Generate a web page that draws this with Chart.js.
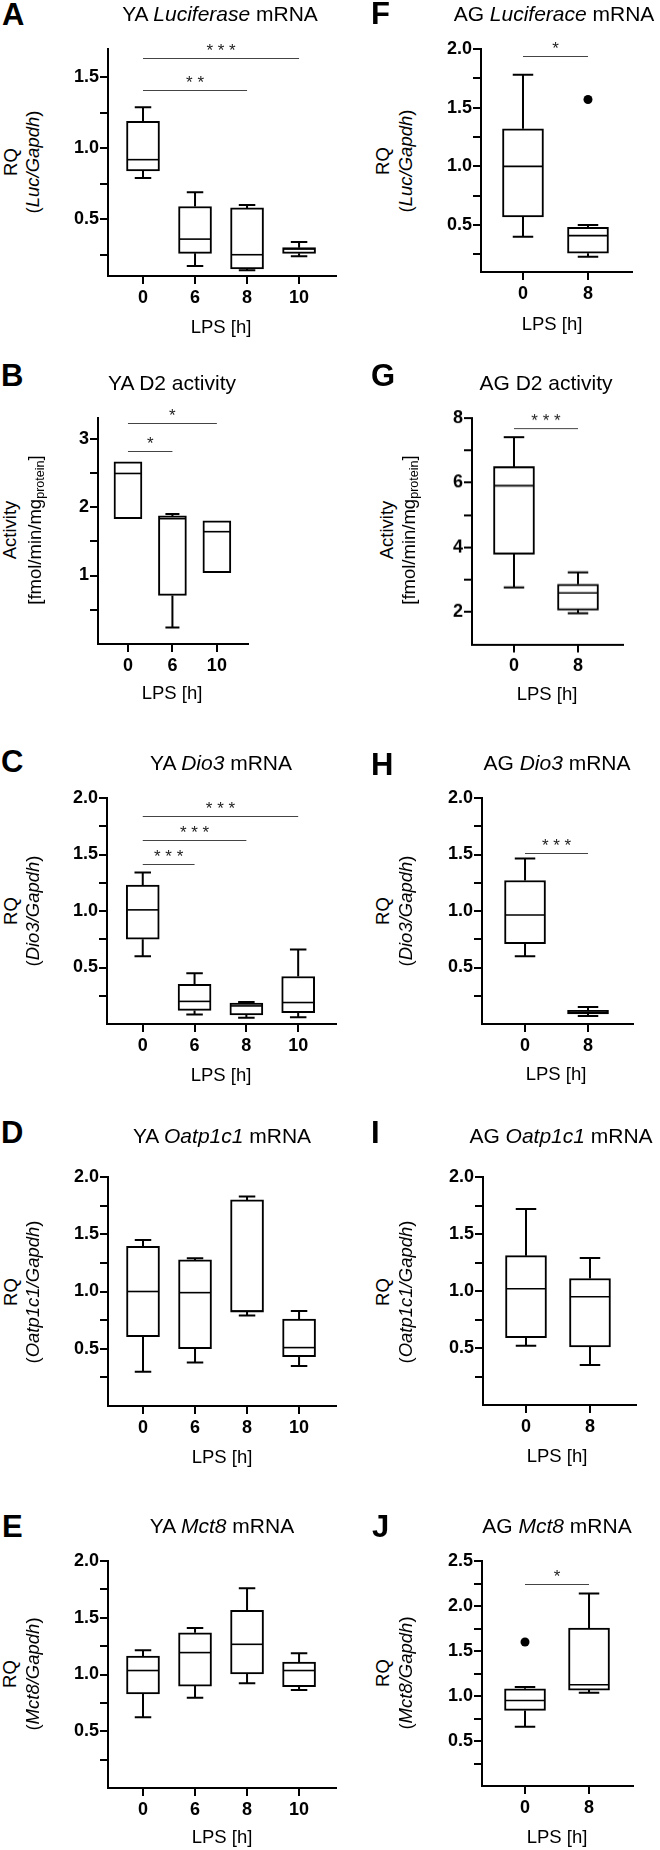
<!DOCTYPE html>
<html>
<head>
<meta charset="utf-8">
<script src="https://cdn.jsdelivr.net/npm/chart.js@4.4.1/dist/chart.umd.min.js"></script>
<style>
  body { margin: 0; background: #fff; }
  #fig { position: relative; width: 660px; height: 1850px; overflow: hidden;
         font-family: 'Liberation Sans', Arial, Helvetica, sans-serif; color: #000; }
  .t { position: absolute; white-space: nowrap; line-height: 1; }
  .t sub { font-size: 0.68em; vertical-align: -0.25em; line-height: 0; }
  .panel { position: absolute; }
</style>
</head>
<body>
<div id="fig"></div>
<script>
/* ---------- data ---------- */

const RQ_yTicks = ['0.5', '1.0', '1.5', '2.0'];
const RQ_yMinor = [0.25, 0.75, 1.25, 1.75];

// A  YA Luciferase mRNA
const A_lps = ['0', '6', '8', '10'];
const A_min = [0.79, 0.17, 0.14, 0.24];
const A_q1  = [0.84, 0.26, 0.15, 0.26];
const A_med = [0.92, 0.36, 0.25, 0.29];
const A_q3  = [1.19, 0.59, 0.58, 0.30];
const A_max = [1.29, 0.69, 0.60, 0.34];
const A_sig = [[0, 3, 1.64, '* * *'], [0, 2, 1.41, '* *']];
const A_yTicks = ['0.5', '1.0', '1.5'];
const A_yMinor = [0.25, 0.75, 1.25];

// F  AG Luciferace mRNA
const F_lps = ['0', '8'];
const F_min = [0.40, 0.23];
const F_q1  = [0.57, 0.26];
const F_med = [1.00, 0.41];
const F_q3  = [1.32, 0.48];
const F_max = [1.78, 0.50];
const F_out = [[1, 1.57]];
const F_sig = [[0, 1, 1.94, '*']];

// B  YA D2 activity
const B_lps = ['0', '6', '10'];
const B_min = [1.83, 0.24, 1.04];
const B_q1  = [1.83, 0.71, 1.04];
const B_med = [2.49, 1.83, 1.64];
const B_q3  = [2.66, 1.87, 1.80];
const B_max = [2.66, 1.90, 1.80];
const B_sig = [[0, 2, 3.23, '*'], [0, 1, 2.82, '*']];
const B_yTicks = ['1', '2', '3'];
const B_yMinor = [0.5, 1.5, 2.5];

// G  AG D2 activity
const G_lps = ['0', '8'];
const G_min = [2.76, 1.96];
const G_q1  = [3.79, 2.06];
const G_med = [5.91, 2.59];
const G_q3  = [6.50, 2.86];
const G_max = [7.41, 3.23];
const G_sig = [[0, 1, 7.69, '* * *']];
const G_yTicks = ['2', '4', '6', '8'];
const G_yMinor = [3, 5, 7];

// C  YA Dio3 mRNA
const C_lps = ['0', '6', '8', '10'];
const C_min = [0.60, 0.085, 0.055, 0.06];
const C_q1  = [0.75, 0.12, 0.08, 0.10];
const C_med = [1.01, 0.20, 0.16, 0.19];
const C_q3  = [1.23, 0.35, 0.185, 0.42];
const C_max = [1.34, 0.45, 0.195, 0.66];
const C_sig = [[0, 3, 1.84, '* * *'], [0, 2, 1.63, '* * *'], [0, 1, 1.42, '* * *']];

// H  AG Dio3 mRNA
const H_lps = ['0', '8'];
const H_min = [0.60, 0.07];
const H_q1  = [0.71, 0.09];
const H_med = [0.965, 0.105];
const H_q3  = [1.27, 0.12];
const H_max = [1.465, 0.15];
const H_sig = [[0, 1, 1.515, '* * *']];

// D  YA Oatp1c1 mRNA
const D_lps = ['0', '6', '8', '10'];
const D_min = [0.30, 0.38, 0.79, 0.35];
const D_q1  = [0.605, 0.50, 0.82, 0.43];
const D_med = [1.00, 0.99, 0.83, 0.51];
const D_q3  = [1.395, 1.276, 1.80, 0.76];
const D_max = [1.45, 1.29, 1.83, 0.83];

// I  AG Oatp1c1 mRNA
const I_lps = ['0', '8'];
const I_min = [0.52, 0.35];
const I_q1  = [0.59, 0.51];
const I_med = [1.02, 0.95];
const I_q3  = [1.31, 1.11];
const I_max = [1.72, 1.29];

// E  YA Mct8 mRNA
const E_lps = ['0', '6', '8', '10'];
const E_min = [0.624, 0.796, 0.924, 0.863];
const E_q1  = [0.828, 0.898, 1.006, 0.892];
const E_med = [1.035, 1.193, 1.266, 1.035];
const E_q3  = [1.163, 1.368, 1.566, 1.11];
const E_max = [1.213, 1.41, 1.76, 1.187];

// J  AG Mct8 mRNA
const J_lps = ['0', '8'];
const J_min = [0.657, 1.037];
const J_q1  = [0.84, 1.066];
const J_med = [0.95, 1.125];
const J_q3  = [1.08, 1.756];
const J_max = [1.10, 2.14];
const J_out = [[0, 1.60]];
const J_sig = [[0, 1, 2.243, '*']];
const J_yTicks = ['0.5', '1.0', '1.5', '2.0', '2.5'];
const J_yMinor = [0.25, 0.75, 1.25, 1.75, 2.25];

/* ---------- texts ---------- */

const LUC = '(<i>Luc/Gapdh</i>)';
const DIO = '(<i>Dio3/Gapdh</i>)';
const OAT = '(<i>Oatp1c1/Gapdh</i>)';
const MCT = '(<i>Mct8/Gapdh</i>)';
const ACT = '[fmol/min/mg<sub>protein</sub>]';

/* ---------- panels (layout in px) ---------- */

const panels = [
  { letter: 'A', title: 'YA <i>Luciferase</i> mRNA', y1: 'RQ', y2: LUC,
    lps: A_lps, min: A_min, q1: A_q1, med: A_med, q3: A_q3, max: A_max, out: [], sig: A_sig,
    yTicks: A_yTicks, yMinor: A_yMinor, yRange: [0.1, 1.7],
    box: { l: 108, t: 49, b: 276, r: 336, xMin: -0.673, xMax: 3.71, w: 33 },
    txt: { lx: 2, lb: 25, tx: 220, tb: 21, ya: 11, yb: 33, yc: 162, xx: 221, xb: 334 } },
  { letter: 'F', title: 'AG <i>Luciferace</i> mRNA', y1: 'RQ', y2: LUC,
    lps: F_lps, min: F_min, q1: F_q1, med: F_med, q3: F_q3, max: F_max, out: F_out, sig: F_sig,
    yTicks: RQ_yTicks, yMinor: RQ_yMinor, yRange: [0.1, 2.0],
    box: { l: 481, t: 49, b: 272, r: 632, xMin: -0.646, xMax: 1.677, w: 41 },
    txt: { lx: 371, lb: 24, tx: 554, tb: 21, ya: 383, yb: 406, yc: 161, xx: 552, xb: 331 } },
  { letter: 'B', title: 'YA D2 activity', y1: 'Activity', y2: ACT,
    lps: B_lps, min: B_min, q1: B_q1, med: B_med, q3: B_q3, max: B_max, out: [], sig: B_sig,
    yTicks: B_yTicks, yMinor: B_yMinor, yRange: [0, 3.3],
    box: { l: 98, t: 418, b: 644, r: 248, xMin: -0.674, xMax: 2.70, w: 28 },
    txt: { lx: 1, lb: 386, tx: 172, tb: 390, ya: 10, yb: 35, yc: 530, xx: 172, xb: 700 } },
  { letter: 'G', title: 'AG D2 activity', y1: 'Activity', y2: ACT,
    lps: G_lps, min: G_min, q1: G_q1, med: G_med, q3: G_q3, max: G_max, out: [], sig: G_sig,
    yTicks: G_yTicks, yMinor: G_yMinor, yRange: [1, 8],
    box: { l: 472, t: 418, b: 643.5, r: 623, xMin: -0.656, xMax: 1.703, w: 41 },
    txt: { lx: 371, lb: 386, tx: 546, tb: 390, ya: 387, yb: 409, yc: 530, xx: 547, xb: 701 } },
  { letter: 'C', title: 'YA <i>Dio3</i> mRNA', y1: 'RQ', y2: DIO,
    lps: C_lps, min: C_min, q1: C_q1, med: C_med, q3: C_q3, max: C_max, out: [], sig: C_sig,
    yTicks: RQ_yTicks, yMinor: RQ_yMinor, yRange: [0, 2.0],
    box: { l: 107, t: 798, b: 1024, r: 336, xMin: -0.69, xMax: 3.73, w: 33 },
    txt: { lx: 1, lb: 772, tx: 221, tb: 770, ya: 11, yb: 33, yc: 911, xx: 221, xb: 1082 } },
  { letter: 'H', title: 'AG <i>Dio3</i> mRNA', y1: 'RQ', y2: DIO,
    lps: H_lps, min: H_min, q1: H_q1, med: H_med, q3: H_q3, max: H_max, out: [], sig: H_sig,
    yTicks: RQ_yTicks, yMinor: RQ_yMinor, yRange: [0, 2.0],
    box: { l: 482, t: 798, b: 1024, r: 633, xMin: -0.683, xMax: 1.714, w: 41 },
    txt: { lx: 371, lb: 775, tx: 557, tb: 770, ya: 383, yb: 406, yc: 911, xx: 556, xb: 1081 } },
  { letter: 'D', title: 'YA <i>Oatp1c1</i> mRNA', y1: 'RQ', y2: OAT,
    lps: D_lps, min: D_min, q1: D_q1, med: D_med, q3: D_q3, max: D_max, out: [], sig: [],
    yTicks: RQ_yTicks, yMinor: RQ_yMinor, yRange: [0, 2.0],
    box: { l: 108, t: 1177, b: 1406, r: 336, xMin: -0.673, xMax: 3.71, w: 33 },
    txt: { lx: 1, lb: 1143, tx: 222, tb: 1143, ya: 11, yb: 33, yc: 1292, xx: 222, xb: 1464 } },
  { letter: 'I', title: 'AG <i>Oatp1c1</i> mRNA', y1: 'RQ', y2: OAT,
    lps: I_lps, min: I_min, q1: I_q1, med: I_med, q3: I_q3, max: I_max, out: [], sig: [],
    yTicks: RQ_yTicks, yMinor: RQ_yMinor, yRange: [0, 2.0],
    box: { l: 483, t: 1177, b: 1405, r: 636, xMin: -0.672, xMax: 1.719, w: 41 },
    txt: { lx: 371, lb: 1143, tx: 561, tb: 1143, ya: 383, yb: 406, yc: 1292, xx: 557, xb: 1463 } },
  { letter: 'E', title: 'YA <i>Mct8</i> mRNA', y1: 'RQ', y2: MCT,
    lps: E_lps, min: E_min, q1: E_q1, med: E_med, q3: E_q3, max: E_max, out: [], sig: [],
    yTicks: RQ_yTicks, yMinor: RQ_yMinor, yRange: [0, 2.0],
    box: { l: 108, t: 1561, b: 1788, r: 336, xMin: -0.673, xMax: 3.71, w: 33 },
    txt: { lx: 2, lb: 1537, tx: 222, tb: 1533, ya: 10, yb: 33, yc: 1674, xx: 222, xb: 1844 } },
  { letter: 'J', title: 'AG <i>Mct8</i> mRNA', y1: 'RQ', y2: MCT,
    lps: J_lps, min: J_min, q1: J_q1, med: J_med, q3: J_q3, max: J_max, out: J_out, sig: J_sig,
    yTicks: J_yTicks, yMinor: J_yMinor, yRange: [0, 2.5],
    box: { l: 482, t: 1561, b: 1786, r: 633, xMin: -0.672, xMax: 1.687, w: 41 },
    txt: { lx: 372, lb: 1537, tx: 557, tb: 1533, ya: 383, yb: 406, yc: 1673, xx: 557, xb: 1844 } },
];

/* ---------- drawing ---------- */

const FONT = "'Liberation Sans', Arial, Helvetica, sans-serif";
Chart.defaults.font.family = FONT;
Chart.defaults.color = '#000';

const fig = document.getElementById('fig');
const topFor = (base, size) => base - 0.8465 * size;

function txt(html, css) {
  const d = document.createElement('div');
  d.className = 't';
  d.innerHTML = html;
  d.style.cssText = css;
  fig.appendChild(d);
}

function boxPlugin(p) {
  return {
    id: 'boxExtras',
    afterDatasetsDraw(chart) {
      const { ctx, scales: { x, y } } = chart;
      const hw = p.box.w / 2, cw = p.box.w * 0.25;
      ctx.save();
      ctx.strokeStyle = '#000';
      ctx.lineCap = 'butt';
      p.lps.forEach((_, i) => {
        const cx = x.getPixelForValue(i);
        const yMax = y.getPixelForValue(p.max[i]);
        const yMin = y.getPixelForValue(p.min[i]);
        const yQ1 = y.getPixelForValue(p.q1[i]);
        const yQ3 = y.getPixelForValue(p.q3[i]);
        const yMed = y.getPixelForValue(p.med[i]);
        ctx.lineWidth = 2;
        ctx.beginPath();
        if (yQ3 - yMax > 0.5) {
          ctx.moveTo(cx, yQ3); ctx.lineTo(cx, yMax);
          ctx.moveTo(cx - cw, yMax); ctx.lineTo(cx + cw, yMax);
        }
        if (yMin - yQ1 > 0.5) {
          ctx.moveTo(cx, yQ1); ctx.lineTo(cx, yMin);
          ctx.moveTo(cx - cw, yMin); ctx.lineTo(cx + cw, yMin);
        }
        ctx.stroke();
        ctx.lineWidth = 1.6;
        ctx.beginPath();
        ctx.moveTo(cx - hw + 1, yMed); ctx.lineTo(cx + hw - 1, yMed);
        ctx.stroke();
      });
      // significance bars
      ctx.strokeStyle = '#444';
      ctx.fillStyle = '#222';
      ctx.lineWidth = 1;
      ctx.font = '17px ' + FONT;
      ctx.textAlign = 'center';
      ctx.textBaseline = 'alphabetic';
      p.sig.forEach(([a, b, v, label]) => {
        const x1 = x.getPixelForValue(a), x2 = x.getPixelForValue(b);
        const yy = Math.round(y.getPixelForValue(v)) + 0.5;
        ctx.beginPath();
        ctx.moveTo(x1, yy); ctx.lineTo(x2, yy);
        ctx.stroke();
        ctx.fillText(label, (x1 + x2) / 2, yy - 3);
      });
      ctx.restore();
    }
  };
}

function makePanel(p) {
  const padL = 60, padT = 25, padB = 44, padR = 6;
  const bx = p.box;
  const w = bx.r - bx.l + padL + padR;
  const h = bx.b - bx.t + padT + padB;
  const wrap = document.createElement('div');
  wrap.className = 'panel';
  wrap.style.cssText = `left:${bx.l - padL}px;top:${bx.t - padT}px;width:${w}px;height:${h}px`;
  const cv = document.createElement('canvas');
  wrap.appendChild(cv);
  fig.appendChild(wrap);

  const labelOf = {};
  p.yTicks.forEach(s => { labelOf[parseFloat(s).toFixed(3)] = s; });
  const yVals = p.yTicks.map(parseFloat).concat(p.yMinor);

  new Chart(cv, {
    type: 'bar',
    data: {
      datasets: [
        {
          type: 'bar',
          data: p.lps.map((_, i) => ({ x: i, y: [p.q1[i], p.q3[i]] })),
          backgroundColor: '#fff',
          borderColor: '#000',
          borderWidth: 2,
          borderSkipped: false,
          barThickness: bx.w,
          grouped: false,
        },
        {
          type: 'scatter',
          data: p.out.map(o => ({ x: o[0], y: o[1] })),
          pointRadius: 4.5,
          pointBackgroundColor: '#000',
          pointBorderWidth: 0,
        },
      ],
    },
    options: {
      responsive: true,
      maintainAspectRatio: false,
      animation: false,
      layout: { padding: { left: 0, top: padT, right: padR, bottom: 0 } },
      plugins: { legend: { display: false }, tooltip: { enabled: false } },
      scales: {
        x: {
          type: 'linear', min: bx.xMin, max: bx.xMax, offset: false,
          afterFit: s => { s.height = padB; },
          afterBuildTicks: s => { s.ticks = p.lps.map((_, i) => ({ value: i })); },
          ticks: {
            callback: v => p.lps[v],
            font: { size: 18, weight: 'bold' }, color: '#000',
            padding: 3, maxRotation: 0, autoSkip: false,
          },
          grid: { display: true, offset: false, drawOnChartArea: false, drawTicks: true,
                  tickLength: 8, color: '#000', lineWidth: 2 },
          border: { display: true, color: '#000', width: 2 },
        },
        y: {
          min: p.yRange[0], max: p.yRange[1],
          afterFit: s => { s.width = padL; },
          afterBuildTicks: s => { s.ticks = yVals.map(v => ({ value: v })); },
          ticks: {
            callback: v => labelOf[Number(v).toFixed(3)] || '',
            font: { size: 18, weight: 'bold' }, color: '#000',
            padding: 1, autoSkip: false,
          },
          grid: { display: true, drawOnChartArea: false, drawTicks: true,
                  tickLength: 8, color: '#000', lineWidth: 2 },
          border: { display: true, color: '#000', width: 2 },
        },
      },
    },
    plugins: [boxPlugin(p)],
  });

  const t = p.txt;
  txt(p.letter, `left:${t.lx}px;top:${topFor(t.lb, 31)}px;font-size:31px;font-weight:bold`);
  txt(p.title, `left:${t.tx}px;top:${topFor(t.tb, 21)}px;font-size:21px;transform:translateX(-50%)`);
  txt('LPS [h]', `left:${t.xx}px;top:${topFor(t.xb, 18.5)}px;font-size:18.5px;transform:translateX(-50%)`);
  txt(p.y1, `left:${t.ya}px;top:${t.yc}px;font-size:18.5px;transform:translate(-50%,-50%) rotate(-90deg)`);
  txt(p.y2, `left:${t.yb}px;top:${t.yc}px;font-size:18.5px;transform:translate(-50%,-50%) rotate(-90deg)`);
}

panels.forEach(makePanel);
</script>
</body>
</html>
